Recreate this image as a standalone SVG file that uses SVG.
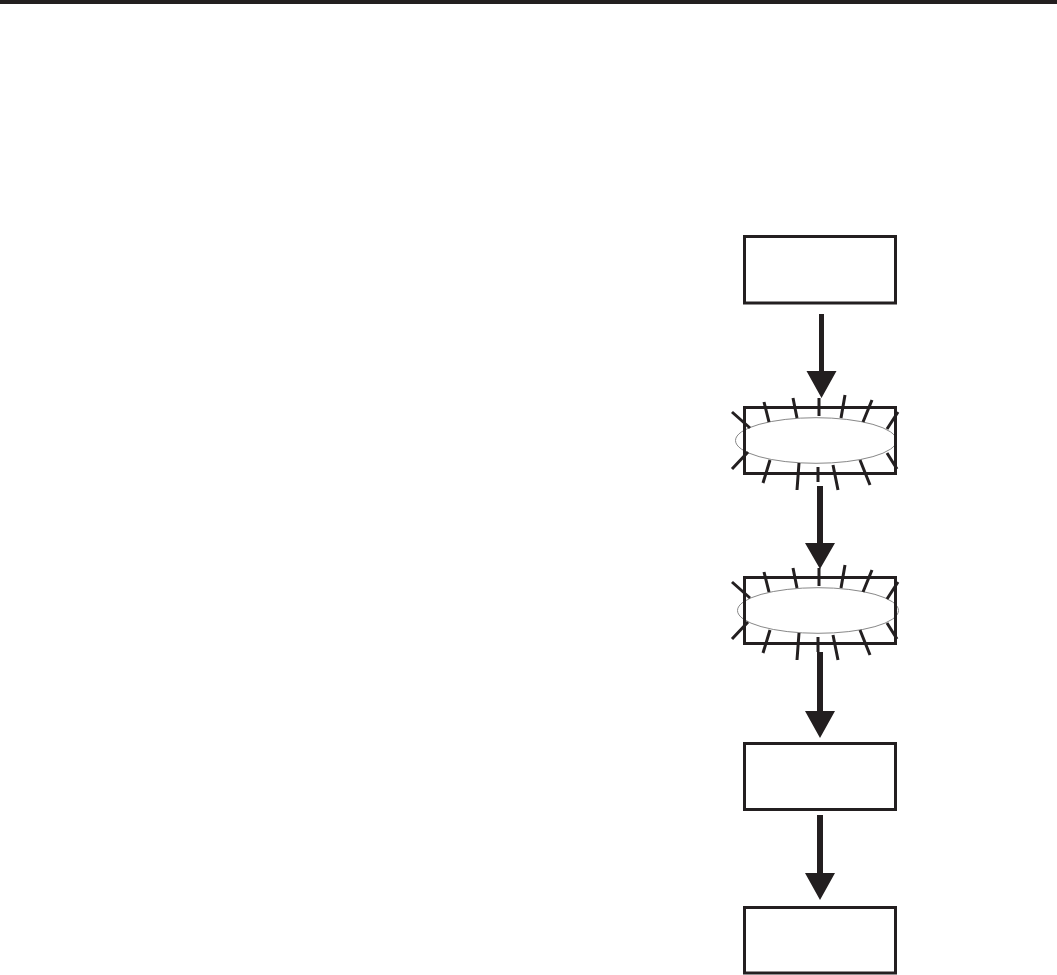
<svg xmlns="http://www.w3.org/2000/svg" width="1057" height="975" viewBox="0 0 1057 975">
<style>
.box{fill:none;stroke:#231f20;stroke-width:3}
.ell{fill:#fff;stroke:#888;stroke-width:1}
.ray{fill:none;stroke:#231f20;stroke-width:3}
.arr{fill:#231f20;stroke:none}
</style>
<defs>
<path id="rays" class="ray" d="M732,412L750,428M732,469L748,452M764,402L769,422M793,398L797,418M819,398L819,416M845,395L841,418M872,400L863,422M898,412L887,429M770,460L763,483M799,463L797,490M818,467L818,482M833,465L838,490M860,460L870,485M887,453L897,469"/>
</defs>
<rect x="0" y="0" width="1057" height="4" fill="#231f20"/>
<g id="connectors">
<path class="arr" d="M819,314H824V371H836.5L821.5,398L806.5,371H819Z"/>
<path class="arr" d="M817,486H823V543H835L820,569L805,543H817Z"/>
<path class="arr" d="M817,652H823V711H835L820,738L805,711H817Z"/>
<path class="arr" d="M817,815H823V873H835L820,900L805,873H817Z"/>
</g>
<g id="node1"><rect class="box" x="744.5" y="236.5" width="151" height="66.5"/></g>
<g id="node2">
<ellipse class="ell" cx="816" cy="440.5" rx="80.5" ry="22.8"/>
<rect class="box" x="744.5" y="407.5" width="151" height="66"/>
<use href="#rays"/>
</g>
<g id="node3">
<ellipse class="ell" cx="818" cy="610.5" rx="80.5" ry="22.8"/>
<rect class="box" x="744.5" y="577.5" width="151" height="66"/>
<use href="#rays" transform="translate(0,170)"/>
</g>
<g id="node4"><rect class="box" x="744.5" y="743.5" width="151" height="66"/></g>
<g id="node5"><rect class="box" x="744.5" y="907.5" width="151" height="65.5"/></g>
</svg>
